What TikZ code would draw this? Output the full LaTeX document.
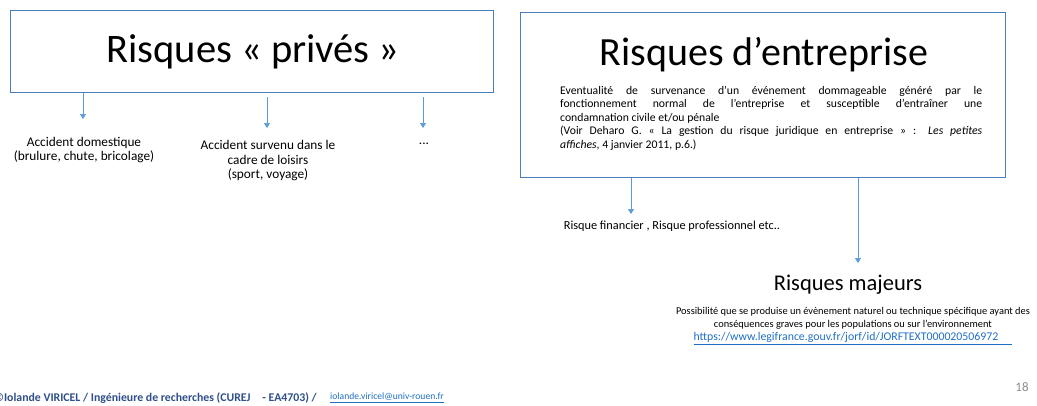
\documentclass[tikz,border=0pt]{standalone}
\usepackage{fontspec}
\setmainfont{Carlito}
\usetikzlibrary{arrows.meta}
\definecolor{boxblue}{HTML}{4A7EBB}
\definecolor{arrblue}{HTML}{5B9BD5}
\definecolor{footblue}{HTML}{2F4F8A}
\definecolor{linkblue}{HTML}{1F6FC5}
\definecolor{numgrey}{HTML}{8C8C8C}
\tikzset{
  titlebox/.style={draw=boxblue, line width=0.8pt},
  conn/.style={draw=arrblue, line width=0.7pt, -{Triangle[width=6pt,length=5pt]}},
  lbl/.style={font=\fontsize{13.3}{14.5}\selectfont, align=center, inner sep=0pt},
}
\begin{document}
\begin{tikzpicture}[x=1pt,y=-1pt]
\useasboundingbox (0,0) rectangle (1037,405);
% left box
\draw[titlebox] (10,10) rectangle (493,92);
\node[inner sep=0pt, font=\fontsize{40.5}{46}\selectfont] (tprive) at (253,52) {Risques « privés »};
\coordinate (l1s) at (83,93);   \coordinate (l1e) at (83,119);
\coordinate (l2s) at (267,97);  \coordinate (l2e) at (267,128);
\coordinate (l3s) at (423,97);  \coordinate (l3e) at (423,128);
\node[lbl] (dom) at (84,150) {Accident domestique\\(brulure, chute, bricolage)};
\node[lbl] (loi) at (268,161) {Accident survenu dans le\\cadre de loisirs\\(sport, voyage)};
\node[lbl] (etc) at (424,144) {...};
\draw[conn] (l1s) -- (l1e);
\draw[conn] (l2s) -- (l2e);
\draw[conn] (l3s) -- (l3e);
% right box
\draw[titlebox] (520,12) rectangle (1005,177);
\node[inner sep=0pt, font=\fontsize{40}{46}\selectfont] (tent) at (764,55) {Risques d’entreprise};
\node[inner sep=0pt, anchor=north west, text width=422pt, align=justify,
      font=\fontsize{11.7}{13.5}\selectfont] (def) at (560,86)
 {Eventualité de survenance d’un événement dommageable généré par le\linebreak
  fonctionnement normal de l’entreprise et susceptible d’entraîner une\linebreak
  condamnation civile et/ou pénale\\
  (Voir Deharo G. « La gestion du risque juridique en entreprise » : \textit{Les petites}\linebreak
  \textit{affiches}, 4 janvier 2011, p.6.)};
\coordinate (r1s) at (631,178); \coordinate (r1e) at (631,214);
\coordinate (r2s) at (858,178); \coordinate (r2e) at (858,263);
\node[inner sep=0pt, font=\fontsize{12.3}{14}\selectfont] (fin) at (672,226) {Risque financier , Risque professionnel etc..};
\draw[conn] (r1s) -- (r1e);
\node[inner sep=0pt, font=\fontsize{22.5}{26}\selectfont] (maj) at (848,285) {Risques majeurs};
\draw[conn] (r2s) -- (r2e);
\node[inner sep=0pt, anchor=north, align=center, font=\fontsize{10.4}{13}\selectfont] (poss) at (853,307)
 {Possibilité que se produise un évènement naturel ou technique spécifique ayant des\\
  conséquences graves pour les populations ou sur l’environnement\\
  \textcolor{linkblue}{\fontsize{11.8}{13}\selectfont\underline{https://www.legifrance.gouv.fr/jorf/id/JORFTEXT000020506972\hspace{14pt}}}};
% footer
\node[inner sep=0pt, anchor=west, font=\fontsize{11.8}{13}\selectfont\bfseries, text=footblue] (foot) at (-6,398)
 {©Iolande VIRICEL / Ingénieure de recherches (CUREJ\quad - EA4703) /};
\node[inner sep=0pt, anchor=west, font=\fontsize{9.6}{11}\selectfont, text=linkblue] (mail) at (330,398)
 {\underline{iolande.viricel@univ-rouen.fr}};
\node[inner sep=0pt, font=\fontsize{13}{15}\selectfont, text=numgrey] (num) at (1022,387) {18};
\end{tikzpicture}
\end{document}
